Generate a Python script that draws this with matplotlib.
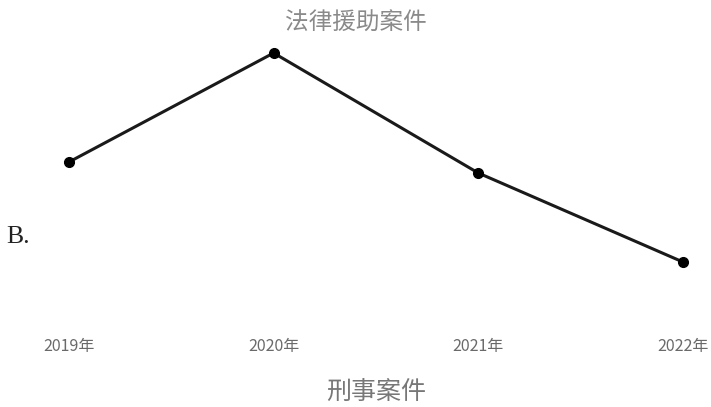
import matplotlib
matplotlib.use("Agg")
import matplotlib.pyplot as plt

plt.rcParams['font.family'] = ['Noto Sans CJK SC', 'DejaVu Sans']

# data (arbitrary units)
years = ["2019年", "2020年", "2021年", "2022年"]
cases = [138, 247, 127, 38]

title = "法律援助案件"
xlabel = "刑事案件"

fig = plt.figure(figsize=(7.11, 4.07), dpi=100)
ax = fig.add_axes([0, 0, 1, 1])
x = list(range(len(years)))
ax.plot(x, cases, color="#1a1a1a", lw=2.2, marker="o", ms=7,
        markerfacecolor="#000000", markeredgecolor="#000000")
ax.set_xlim(-0.337, 3.137)
ax.set_ylim(-107, 300)
ax.axis("off")

for i, lab in enumerate(years):
    ax.text(i, -47, lab, ha="center", va="center", fontsize=11.5,
            color="#6a6a6a")

fig.text(356 / 711, 1 - 23 / 407, title, ha="center", va="center",
         fontsize=17, color="#8a8a8a")
fig.text(376 / 711, 1 - 392 / 407, xlabel, ha="center", va="center",
         fontsize=18, color="#777777")
fig.text(6 / 711, 1 - 243 / 407, "B.", ha="left", va="baseline",
         fontsize=18.5, family="Liberation Serif", color="#222222")

fig.savefig("out.png", dpi=100)
